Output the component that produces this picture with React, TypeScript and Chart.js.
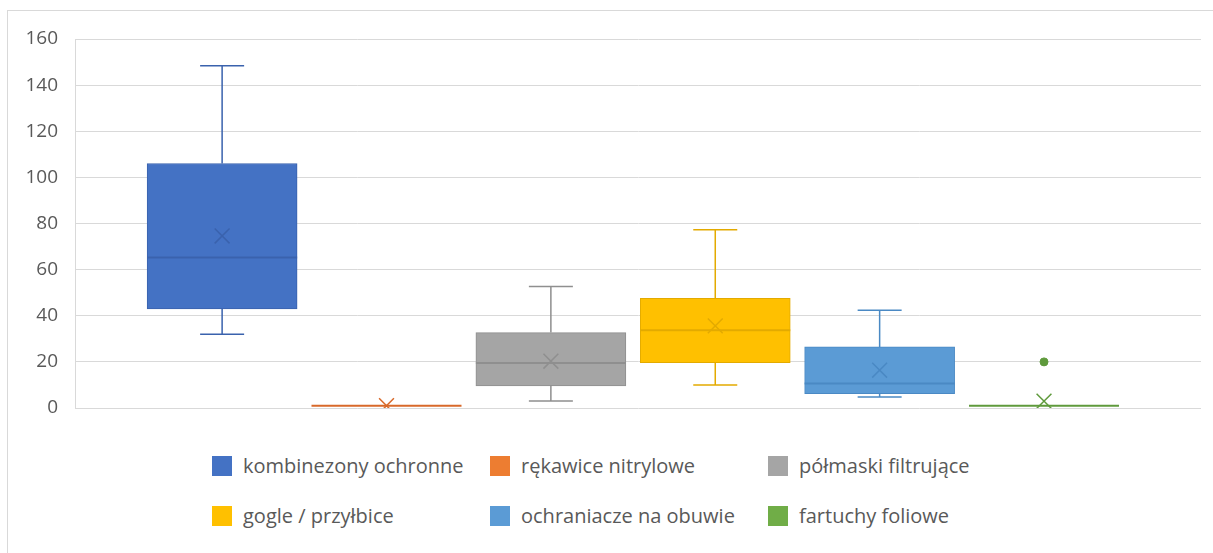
import React, { useEffect, useRef } from "react";
import { Chart, registerables } from "chart.js";

Chart.register(...registerables);

// ---- data ----
const seriesNames = [
  "kombinezony ochronne",
  "rękawice nitrylowe",
  "półmaski filtrujące",
  "gogle / przyłbice",
  "ochraniacze na obuwie",
  "fartuchy foliowe",
];
const minValues = [32, 1, 3, 10, 4.8, 1];
const q1Values = [43, 1, 9.6, 19.7, 6.2, 1];
const medianValues = [65.3, 1, 19.5, 33.7, 10.6, 1];
const q3Values = [106, 1, 32.7, 47.6, 26.5, 1];
const maxValues = [148.4, 1, 52.7, 77.3, 42.4, 1];
const meanValues = [74.6, 1, 20.3, 35.6, 16.4, 3];
const outlierSeries = [5];
const outlierValues = [20];
const yMin = 0;
const yMax = 160;
const yStep = 20;

// ---- styles ----
const fillColors = ["#4472C4", "#ED7D31", "#A5A5A5", "#FFC000", "#5B9BD5", "#70AD47"];
const lineColors = ["#3A62AD", "#D8692A", "#8F8F8F", "#E3AA00", "#4A89C4", "#5F9A3C"];
const FONT = "'Open Sans', 'DejaVu Sans', sans-serif";
const TEXT = "#595959";

const BOX_DATASET = 2;

const boxPlugin = {
  id: "boxWhiskers",
  afterDatasetDraw(chart: any, args: any) {
    if (args.index !== BOX_DATASET) return;
    const ctx = chart.ctx;
    const ys = chart.scales.y;
    ctx.save();
    args.meta.data.forEach((bar: any, i: number) => {
      const { x, width } = bar.getProps(["x", "width"], true);
      const color = lineColors[i];
      const capHalf = 22;
      const yMinP = ys.getPixelForValue(minValues[i]);
      const yQ1 = ys.getPixelForValue(q1Values[i]);
      const yMed = ys.getPixelForValue(medianValues[i]);
      const yQ3 = ys.getPixelForValue(q3Values[i]);
      const yMaxP = ys.getPixelForValue(maxValues[i]);
      ctx.strokeStyle = color;
      ctx.lineWidth = 1.5;
      ctx.beginPath();
      if (maxValues[i] > q3Values[i]) {
        ctx.moveTo(x, yQ3);
        ctx.lineTo(x, yMaxP);
        ctx.moveTo(x - capHalf, yMaxP);
        ctx.lineTo(x + capHalf, yMaxP);
      }
      if (minValues[i] < q1Values[i]) {
        ctx.moveTo(x, yQ1);
        ctx.lineTo(x, yMinP);
        ctx.moveTo(x - capHalf, yMinP);
        ctx.lineTo(x + capHalf, yMinP);
      }
      ctx.stroke();
      ctx.lineWidth = 2;
      ctx.beginPath();
      ctx.moveTo(x - width / 2, yMed);
      ctx.lineTo(x + width / 2, yMed);
      ctx.stroke();
    });
    ctx.restore();
  },
};

function App() {
  const ref = useRef<HTMLCanvasElement | null>(null);

  useEffect(() => {
    if (!ref.current) return;
    const idx = seriesNames.map((_, i) => i);
    const chart = new Chart(ref.current, {
      type: "bar",
      data: {
        datasets: [
          {
            type: "scatter",
            label: "mean",
            data: idx.map((i) => ({ x: i, y: meanValues[i] })),
            pointStyle: "crossRot",
            pointRadius: 10.5,
            pointBorderWidth: 1.5,
            pointBorderColor: lineColors,
            pointBackgroundColor: "rgba(0,0,0,0)",
          } as any,
          {
            type: "scatter",
            label: "outliers",
            data: outlierSeries.map((s, k) => ({ x: s, y: outlierValues[k] })),
            pointStyle: "circle",
            pointRadius: 4,
            pointBorderWidth: 1,
            pointBorderColor: outlierSeries.map((s) => lineColors[s]),
            pointBackgroundColor: outlierSeries.map((s) => lineColors[s]),
          } as any,
          {
            type: "bar",
            label: "box",
            data: idx.map((i) => ({ x: i, y: [q1Values[i], q3Values[i]] })),
            backgroundColor: fillColors,
            borderColor: lineColors,
            borderWidth: 1,
            borderSkipped: false,
            barThickness: 150,
          } as any,
        ],
      },
      options: {
        animation: false,
        responsive: false,
        layout: { padding: { top: 39, right: 5, bottom: 32, left: 0 } },
        plugins: {
          legend: { display: false },
          tooltip: { enabled: false },
        },
        scales: {
          x: {
            type: "linear",
            min: -0.895,
            max: 5.955,
            offset: false,
            display: false,
          },
          y: {
            min: yMin,
            max: yMax,
            afterFit: (axis: any) => {
              axis.width = 75;
            },
            ticks: {
              stepSize: yStep,
              padding: 17,
              color: TEXT,
              font: { family: FONT, size: 19 },
            },
            grid: { color: "#D9D9D9", lineWidth: 1, drawTicks: false },
            border: { display: true, color: "#D9D9D9" },
          },
        },
      } as any,
      plugins: [boxPlugin],
    });
    return () => chart.destroy();
  }, []);

  return (
    <div
      style={{
        position: "absolute",
        left: 0,
        top: 0,
        width: 1213,
        height: 553,
        overflow: "hidden",
        background: "#fff",
        fontFamily: FONT,
      }}
    >
      <div
        style={{
          position: "absolute",
          left: 7,
          top: 10,
          width: 1300,
          height: 700,
          border: "1px solid #D9D9D9",
        }}
      />
      <canvas
        ref={ref}
        width={1213}
        height={440}
        style={{ position: "absolute", left: 0, top: 0, width: 1213, height: 440 }}
      />
      {seriesNames.map((name, i) => {
        const col = i % 3;
        const row = Math.floor(i / 3);
        return (
          <div
            key={name}
            style={{
              position: "absolute",
              left: 212 + col * 278,
              top: 456 + row * 50,
              height: 20,
              display: "flex",
              alignItems: "center",
              whiteSpace: "nowrap",
            }}
          >
            <span
              style={{
                display: "inline-block",
                width: 20,
                height: 20,
                background: fillColors[i],
                marginRight: 11,
              }}
            />
            <span style={{ color: TEXT, fontSize: 20, lineHeight: "20px" }}>{name}</span>
          </div>
        );
      })}
    </div>
  );
}

export default App;
